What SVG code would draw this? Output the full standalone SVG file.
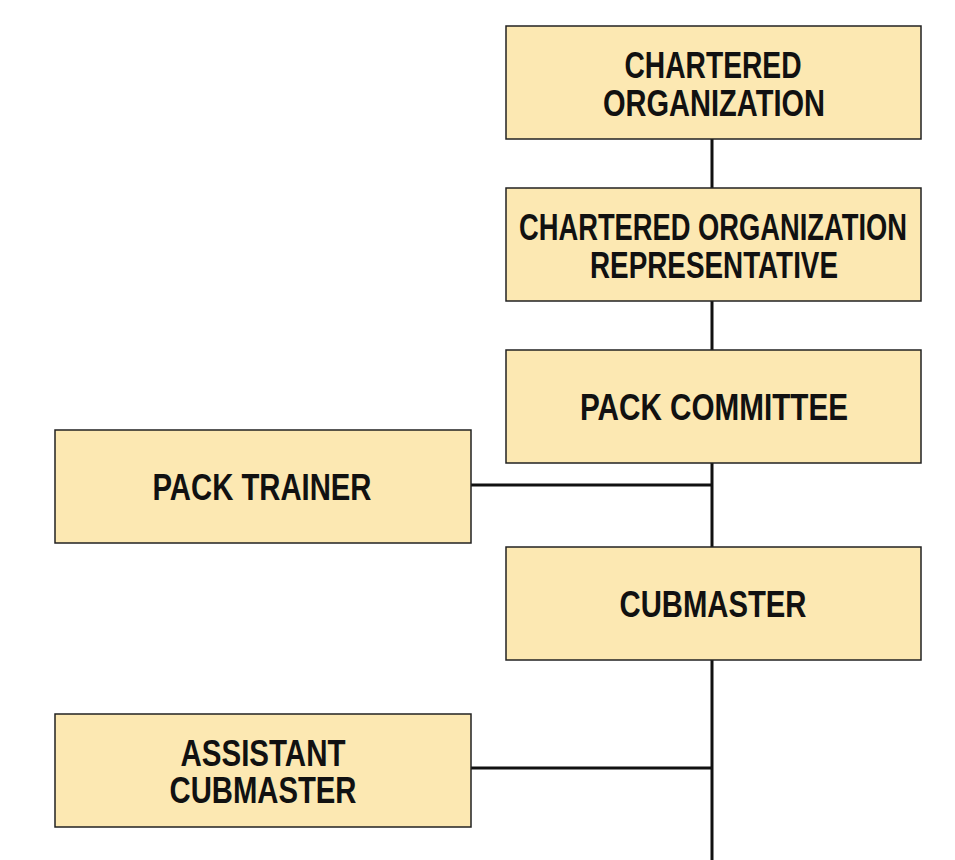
<svg xmlns="http://www.w3.org/2000/svg" width="955" height="860" viewBox="0 0 955 860">
<style>
.box{fill:#FCE8B2;stroke:#222;stroke-width:1.5}
.t{font-family:"Liberation Sans",Arial,sans-serif;font-weight:bold;font-size:37px;fill:#111;text-anchor:middle}
.c{stroke:#111;stroke-width:3;fill:none}
</style>
<rect width="955" height="860" fill="#fff"/>
<g id="connectors">
<line class="c" x1="712" y1="139" x2="712" y2="860"/>
<line class="c" x1="471" y1="485" x2="712" y2="485"/>
<line class="c" x1="471" y1="768" x2="712" y2="768"/>
</g>
<g id="chartered-org"><rect class="box" x="506" y="26" width="415" height="113"/>
<text class="t" x="713" y="78" textLength="177" lengthAdjust="spacingAndGlyphs">CHARTERED</text>
<text class="t" x="714" y="116" textLength="222" lengthAdjust="spacingAndGlyphs">ORGANIZATION</text></g>
<g id="cor"><rect class="box" x="506" y="188" width="415" height="113"/>
<text class="t" x="713" y="240" font-size="35" textLength="388" lengthAdjust="spacingAndGlyphs">CHARTERED ORGANIZATION</text>
<text class="t" x="714" y="278" textLength="248" lengthAdjust="spacingAndGlyphs">REPRESENTATIVE</text></g>
<g id="pack-committee"><rect class="box" x="506" y="350" width="415" height="113"/>
<text class="t" x="714" y="420" textLength="268" lengthAdjust="spacingAndGlyphs">PACK COMMITTEE</text></g>
<g id="pack-trainer"><rect class="box" x="55" y="430" width="416" height="113"/>
<text class="t" x="262" y="500" textLength="219" lengthAdjust="spacingAndGlyphs">PACK TRAINER</text></g>
<g id="cubmaster"><rect class="box" x="506" y="547" width="415" height="113"/>
<text class="t" x="713" y="617" textLength="187" lengthAdjust="spacingAndGlyphs">CUBMASTER</text></g>
<g id="assistant-cubmaster"><rect class="box" x="55" y="714" width="416" height="113"/>
<text class="t" x="263" y="766" textLength="165" lengthAdjust="spacingAndGlyphs">ASSISTANT</text>
<text class="t" x="263" y="803" textLength="187" lengthAdjust="spacingAndGlyphs">CUBMASTER</text></g>
</svg>
